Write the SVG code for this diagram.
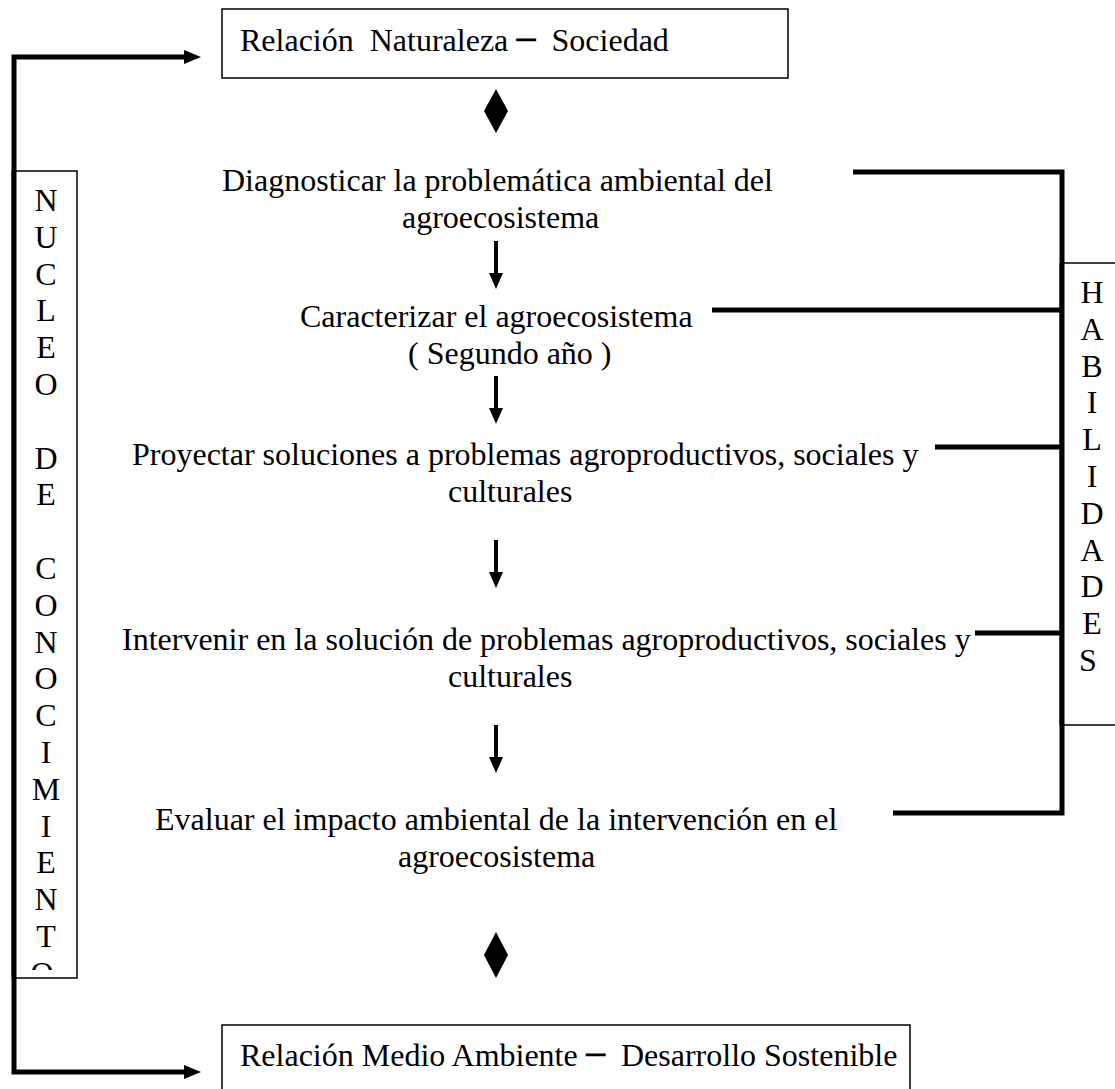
<svg xmlns="http://www.w3.org/2000/svg" width="1115" height="1089" viewBox="0 0 1115 1089">
<style>
.t{font-family:"Liberation Serif","Times New Roman",serif;font-size:32px;fill:#000;white-space:pre}
.box{fill:#fff;stroke:#000;stroke-width:1.5}
.thick{fill:none;stroke:#000;stroke-width:5}
.shaft{fill:none;stroke:#000;stroke-width:4}
</style>
<defs>
<marker id="ah" viewBox="0 0 17 14" markerWidth="17" markerHeight="14" refX="6" refY="7" orient="auto-start-reverse" markerUnits="userSpaceOnUse"><path d="M0,0 L17,7 L0,14 z" fill="#000"/></marker>
<marker id="ad" viewBox="0 0 16 14" markerWidth="16" markerHeight="14" refX="5" refY="7" orient="auto" markerUnits="userSpaceOnUse"><path d="M0,0 L16,7 L0,14 z" fill="#000"/></marker>
<clipPath id="nclip"><rect x="14" y="172" width="63" height="798"/></clipPath>
</defs>
<rect width="1115" height="1089" fill="#fff"/>
<g id="connectors">
<path class="thick" d="M190,57 H14 V1072 H190" marker-start="url(#ah)" marker-end="url(#ah)"/>
<path class="thick" d="M853,172 H1062 V813 H893"/>
<line class="thick" x1="712" y1="310" x2="1062" y2="310"/>
<line class="thick" x1="935" y1="447" x2="1062" y2="447"/>
<line class="thick" x1="975" y1="633" x2="1062" y2="633"/>
<line class="shaft" x1="496" y1="241" x2="496" y2="278" marker-end="url(#ad)"/>
<line class="shaft" x1="496" y1="376" x2="496" y2="413" marker-end="url(#ad)"/>
<line class="shaft" x1="496" y1="540" x2="496" y2="577" marker-end="url(#ad)"/>
<line class="shaft" x1="496" y1="725" x2="496" y2="762" marker-end="url(#ad)"/>
<path d="M496,89 L508,111 L496,133 L484,111 z" fill="#000"/>
<path d="M496,932 L508,955 L496,978 L484,955 z" fill="#000"/>
</g>
<g id="n-top">
<rect class="box" x="222" y="9" width="566" height="69"/>
<text class="t" x="240" y="51">Relación  Naturaleza <tspan font-family="DejaVu Sans Mono">─</tspan>  Sociedad</text>
</g>
<g id="n-diagnosticar">
<text class="t" x="222" y="191">Diagnosticar la problemática ambiental del</text>
<text class="t" x="402" y="228">agroecosistema</text>
</g>
<g id="n-caracterizar">
<text class="t" x="300" y="327">Caracterizar el agroecosistema</text>
<text class="t" x="408" y="364">( Segundo año )</text>
</g>
<g id="n-proyectar">
<text class="t" x="132" y="465">Proyectar soluciones a problemas agroproductivos, sociales y</text>
<text class="t" x="448" y="502">culturales</text>
</g>
<g id="n-intervenir">
<text class="t" x="122" y="650">Intervenir en la solución de problemas agroproductivos, sociales y</text>
<text class="t" x="448" y="687">culturales</text>
</g>
<g id="n-evaluar">
<text class="t" x="155" y="830">Evaluar el impacto ambiental de la intervención en el</text>
<text class="t" x="398" y="867">agroecosistema</text>
</g>
<g id="n-bottom">
<rect class="box" x="222" y="1025" width="688" height="80"/>
<text class="t" x="240" y="1066">Relación Medio Ambiente <tspan font-family="DejaVu Sans Mono">─</tspan>  Desarrollo Sostenible</text>
</g>
<g id="n-nucleo">
<rect class="box" x="14" y="171" width="63" height="807"/>
<g clip-path="url(#nclip)">
<text class="t" text-anchor="middle">
<tspan x="46" y="211">N</tspan><tspan x="46" y="247.8">U</tspan><tspan x="46" y="284.6">C</tspan><tspan x="46" y="321.4">L</tspan><tspan x="46" y="358.2">E</tspan><tspan x="46" y="395">O</tspan><tspan x="46" y="468.6">D</tspan><tspan x="46" y="505.4">E</tspan><tspan x="46" y="579">C</tspan><tspan x="46" y="615.8">O</tspan><tspan x="46" y="652.6">N</tspan><tspan x="46" y="689.4">O</tspan><tspan x="46" y="726.2">C</tspan><tspan x="46" y="763">I</tspan><tspan x="46" y="799.8">M</tspan><tspan x="46" y="836.6">I</tspan><tspan x="46" y="873.4">E</tspan><tspan x="46" y="910.2">N</tspan><tspan x="46" y="947">T</tspan><tspan x="46" y="983.8">O</tspan>
</text>
</g>
<line class="thick" x1="14" y1="171" x2="14" y2="978"/>
</g>
<g id="n-habilidades">
<rect class="box" x="1062" y="263" width="60" height="462"/>
<text class="t" text-anchor="middle">
<tspan x="1092" y="303">H</tspan><tspan x="1092" y="339.8">A</tspan><tspan x="1092" y="376.6">B</tspan><tspan x="1092" y="413.4">I</tspan><tspan x="1092" y="450.2">L</tspan><tspan x="1092" y="487">I</tspan><tspan x="1092" y="523.8">D</tspan><tspan x="1092" y="560.6">A</tspan><tspan x="1092" y="597.4">D</tspan><tspan x="1092" y="634.2">E</tspan><tspan x="1092" y="671">S</tspan>
</text>
<line class="thick" x1="1062" y1="263" x2="1062" y2="725"/>
</g>
</svg>
